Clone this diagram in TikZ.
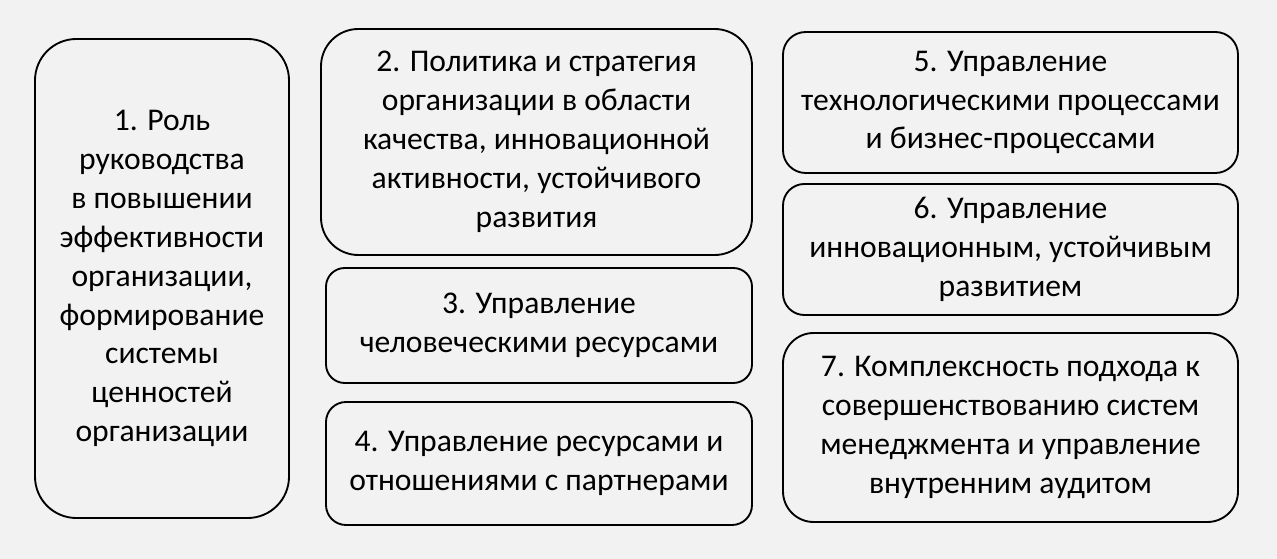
\documentclass[tikz,border=0pt]{standalone}
\usepackage{fontspec}
\setmainfont{Carlito}
\usepackage{xcolor}
\usepackage{tikz}
\usetikzlibrary{positioning}
\definecolor{bggray}{HTML}{F2F2F2}

\begin{document}
\begin{tikzpicture}[x=0.75pt, y=-0.75pt,
		block/.style={draw, line width=1.4pt, align=center, inner sep=0pt,
			font=\fontsize{23.7}{29.2}\selectfont},
		every node/.style={text=black}]
		\useasboundingbox (0,0) rectangle (1277,559);
		\fill [bggray] (0,0) rectangle (1277,559);
		\node [block, minimum width=254*0.75pt, minimum height=479*0.75pt, rounded corners=31pt] (role) at (162,278.5)
			{1. Роль\\ руководства\\ в повышении\\ эффективности\\ организации,\\ формирование\\ системы\\ ценностей\\ организации};
		\node [block, minimum width=431*0.75pt, minimum height=226*0.75pt, rounded corners=28pt] (policy) at (536.5,142)
			{2. Политика и стратегия\\ организации в области\\ качества, инновационной\\ активности, устойчивого\\ развития};
		\node [block, minimum width=426*0.75pt, minimum height=115*0.75pt, rounded corners=14pt] (human) at (539,325.5)
			{3. Управление\\ человеческими ресурсами};
		\node [block, minimum width=426*0.75pt, minimum height=123*0.75pt, rounded corners=15pt] (partner) at (539,463.5)
			{4. Управление ресурсами и\\ отношениями с партнерами};
		\node [block, minimum width=455*0.75pt, minimum height=141*0.75pt, rounded corners=17pt] (techproc) at (1010.5,102.5)
			{5. Управление\\ технологическими процессами\\ и бизнес-процессами};
		\node [block, minimum width=455*0.75pt, minimum height=131*0.75pt, rounded corners=16pt] (innov) at (1010.5,249.5)
			{6. Управление\\ инновационным, устойчивым\\ развитием};
		\node [block, minimum width=455*0.75pt, minimum height=189*0.75pt, rounded corners=23pt] (audit) at (1010.5,427.5)
			{7. Комплексность подхода к\\ совершенствованию систем\\ менеджмента и управление\\ внутренним аудитом};
\end{tikzpicture}
\end{document}
